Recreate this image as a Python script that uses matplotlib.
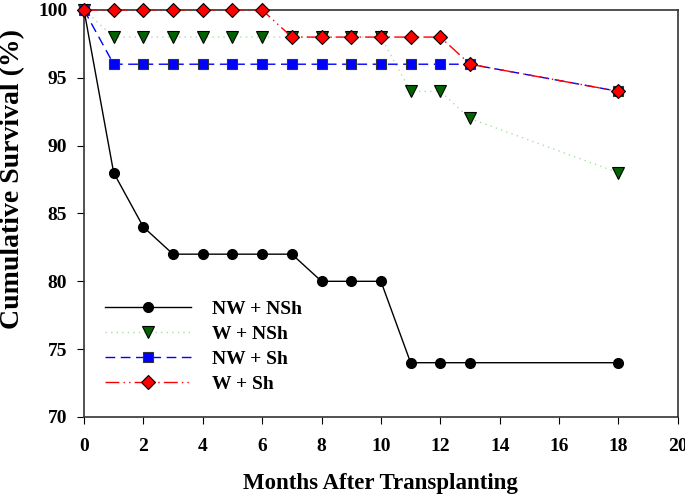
import matplotlib
matplotlib.use("Agg")
import matplotlib.pyplot as plt

plt.rcParams['font.family'] = ['Liberation Serif', 'DejaVu Serif']
plt.rcParams['font.weight'] = 'bold'

months = [0, 1, 2, 3, 4, 5, 6, 7, 8, 9, 10, 11, 12, 13, 18]
nw_nsh = [100, 88, 84, 82, 82, 82, 82, 82, 80, 80, 80, 74, 74, 74, 74]
w_nsh = [100, 98, 98, 98, 98, 98, 98, 98, 98, 98, 98, 94, 94, 92, 88]
nw_sh = [100, 96, 96, 96, 96, 96, 96, 96, 96, 96, 96, 96, 96, 96, 94]
w_sh = [100, 100, 100, 100, 100, 100, 100, 98, 98, 98, 98, 98, 98, 96, 94]
labels = ['NW + NSh', 'W + NSh', 'NW + Sh', 'W + Sh']
xticks = [0, 2, 4, 6, 8, 10, 12, 14, 16, 18, 20]
yticks = [70, 75, 80, 85, 90, 95, 100]

fig = plt.figure(figsize=(6.85, 4.97), dpi=100)
ax = fig.add_axes([0.1226, 0.161, 0.867, 0.819])

ax.plot(months, nw_nsh, color='black', lw=1.0, ls='-', marker='o', ms=7,
        mfc='black', mec='black', label=labels[0], clip_on=False, zorder=3)
ax.plot(months, w_nsh, color='#a8e0a8', lw=1.0, ls=(0, (1, 3)), marker='v', ms=8,
        mfc='#006400', mec='black', mew=0.8, label=labels[1], clip_on=False, zorder=4)
ax.plot(months, nw_sh, color='blue', lw=1.0, ls=(0, (7, 4)), marker='s', ms=7,
        mfc='blue', mec='#333333', mew=0.8, label=labels[2], clip_on=False, zorder=5)
ax.plot(months, w_sh, color='red', lw=1.0, ls=(0, (10, 3, 1, 3, 1, 3)), marker='D', ms=7,
        mfc='red', mec='black', mew=0.8, label=labels[3], clip_on=False, zorder=6)

ax.set_xlim(0, 20)
ax.set_ylim(70, 100)
ax.set_xticks(xticks)
ax.set_yticks(yticks)
ax.tick_params(direction='out', length=5, labelsize=14, top=False, right=False)
ax.tick_params(axis='x', pad=10)
ax.tick_params(axis='y', pad=7)
for lab in ax.get_xticklabels() + ax.get_yticklabels():
    lab.set_fontweight('bold')
for sp in ax.spines.values():
    sp.set_color('#333333')
    sp.set_linewidth(1.2)

ax.set_xlabel('Months After Transplanting', fontsize=16.5, fontweight='bold', labelpad=13)
ax.set_ylabel('Cumulative Survival (%)', fontsize=20, fontweight='bold')
ax.yaxis.set_label_coords(-0.099, 0.585)

leg = ax.legend(loc='center left', bbox_to_anchor=(0.006, 0.172), frameon=False,
                handlelength=4.4, handletextpad=1.1, labelspacing=0.38,
                prop={'weight': 'bold', 'size': 14})

fig.savefig('out.png', dpi=100)
